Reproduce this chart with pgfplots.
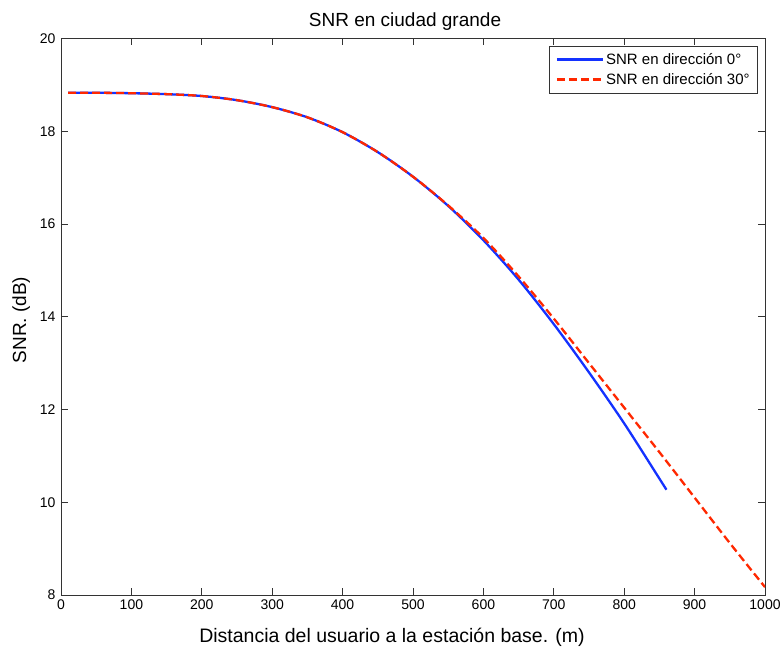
\documentclass[border=0pt]{standalone}
\usepackage{pgfplots}
\pgfplotsset{compat=1.18}
\usepackage{fontspec}
\setmainfont{Liberation Sans}
\definecolor{mblue}{RGB}{20,50,255}
\definecolor{mred}{RGB}{255,40,0}
\begin{document}
\begin{tikzpicture}
\begin{axis}[
  scale only axis,
  width=704pt, height=556.5pt,
  xmin=0, xmax=1000, ymin=8, ymax=20,
  xtick={0,100,...,1000}, ytick={8,10,...,20},
  tick align=inside,
  major tick length=7pt,
  axis line style={line width=0.8pt, black!80},
  every tick/.style={black!80, line width=0.8pt},
  /pgf/number format/assume math mode=true,
  /pgf/number format/1000 sep={},
  ticklabel style={font=\fontsize{14}{16}\selectfont},
  yticklabel style={xshift=-2pt},
  xticklabel style={yshift=-1pt},
  title={SNR en ciudad grande},
  every axis title/.style={at={(axis description cs:0.5,1)}, anchor=base, yshift=12pt, xshift=-8pt, font=\fontsize{19}{22}\selectfont},
  xlabel={Distancia del usuario a la estación base. (m)},
  ylabel={SNR. (dB)},
  every axis x label/.style={at={(axis description cs:0.5,0)}, anchor=base, yshift=-47pt, xshift=-21pt, font=\fontsize{19.5}{22}\selectfont},
  every axis y label/.style={at={(axis description cs:-0.0497,0.494)}, anchor=base, rotate=90, font=\fontsize{19}{22}\selectfont},
  legend style={at={(rel axis cs:0.99,0.986)}, anchor=north east, font=\fontsize{15}{17}\selectfont, draw=black!80, line width=0.6pt, inner xsep=6pt, inner ysep=5pt, row sep=3.5pt, cells={anchor=west}},
  legend image code/.code={\draw[#1, line width=2.6pt] (0pt,0.5pt) -- (46pt,0.5pt);},
]
\addplot[mblue, line width=2.3pt, smooth] coordinates {
(10,18.83) (50,18.83) (100,18.82) (150,18.80) (200,18.76) (250,18.67) (300,18.52) (350,18.30) (400,17.98) (450,17.55) (500,17.02) (550,16.39) (600,15.65) (650,14.80) (700,13.84) (750,12.80) (800,11.70) (850,10.51) (860,10.27)
};
\addlegendentry{SNR en dirección 0°}
\addplot[mred, line width=2.3pt, dash pattern=on 8pt off 4pt, smooth] coordinates {
(10,18.83) (50,18.83) (100,18.82) (150,18.80) (200,18.76) (250,18.67) (300,18.52) (350,18.30) (400,17.98) (450,17.55) (500,17.02) (550,16.40) (600,15.70) (650,14.87) (700,13.96) (750,13.00) (800,12.04) (850,11.08) (900,10.10) (950,9.12) (1000,8.17)
};
\addlegendentry{SNR en dirección 30°}
\end{axis}
\pgfresetboundingbox
\path[use as bounding box] (-61pt,-51pt) rectangle (721pt,595pt);
\end{tikzpicture}
\end{document}
